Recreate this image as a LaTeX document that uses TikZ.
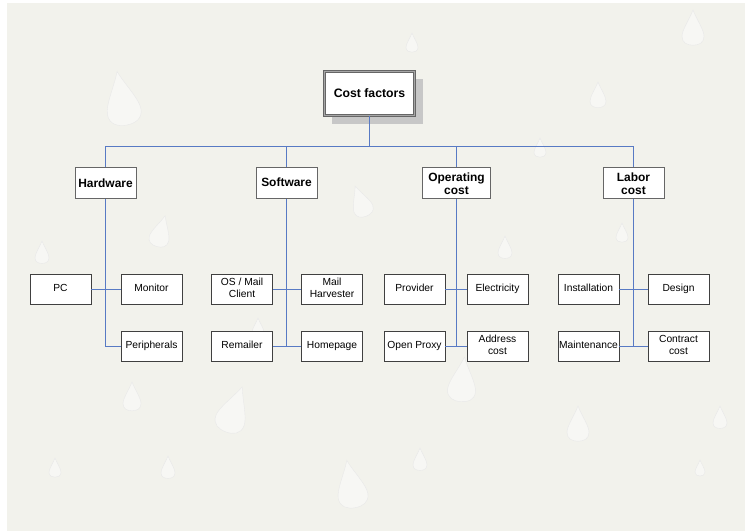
\documentclass[tikz,border=0pt]{standalone}
\usepackage{fontspec}
\setmainfont{Liberation Sans}
\definecolor{linkblue}{RGB}{88,122,196}
\definecolor{bgbeige}{RGB}{242,242,236}
\begin{document}
\begin{tikzpicture}[x=1bp,y=-1bp,
  leaf/.style={draw=black!75,line width=0.8bp,fill=white,minimum width=61bp,minimum height=30bp,inner sep=1bp,align=center,font=\fontsize{10.3}{12}\selectfont,execute at begin node=\strut,execute at end node=\strut},
  cat/.style={draw=black!60,line width=1bp,fill=white,minimum width=61bp,minimum height=31bp,inner sep=1bp,align=center,font=\fontsize{12}{13.5}\selectfont\bfseries},
  root/.style={draw=black!60,double=black!35,double distance=0.8bp,line width=0.7bp,fill=white,minimum width=90bp,minimum height=44bp,font=\fontsize{12.3}{14}\selectfont\bfseries},
  link/.style={draw=linkblue,line width=1bp},
  drop/.pic={\path[fill=white,fill opacity=0.45,draw=black!9,line width=0.4bp]
    (0,-1) .. controls (0.15,-0.6) and (0.5,-0.1) .. (0.5,0.2)
    .. controls (0.5,0.5) and (0.25,0.6) .. (0,0.6)
    .. controls (-0.25,0.6) and (-0.5,0.5) .. (-0.5,0.2)
    .. controls (-0.5,-0.1) and (-0.15,-0.6) .. (0,-1) -- cycle;}]
\useasboundingbox (0,0) rectangle (745,531);
\fill[white] (0,0) rectangle (745,531);
\fill[bgbeige] (7,3) rectangle (745,531);
% background droplets
\foreach \px/\py/\s/\r in {123/105/34/10,42/255/14/0,160/235/20/-15,232/415/30/-20,132/400/18/0,352/490/30/10,462/385/28/-5,420/462/14/0,578/428/22/0,598/98/16/0,693/32/22/0,622/235/12/0,505/250/14/0,362/205/20/20,412/45/12/0,258/330/12/0,700/470/10/0,168/470/14/0,55/470/12/0,540/150/12/0,720/420/14/0}
  \pic[scale=\s,rotate=\r] at (\px,\py) {drop};
% shadow of root
\fill[black!22] (332,79) rectangle (423,124);
\node[root] (cf) at (369.5,93.5) {Cost factors};
\coordinate (bus) at (0,146.5);
% categories
\node[cat] (hw) at (105.5,183.5) {\raisebox{-4bp}{Hardware}};
\node[cat] (sw) at (286.5,183.5) {\raisebox{3bp}{Software}};
\node[cat,minimum width=68bp] (oc) at (456.5,183.5) {Operating\\cost};
\node[cat] (lc) at (633.5,183.5) {Labor\\cost};
% leaves
\node[leaf] (pc) at (60.5,289.5) {PC};
\node[leaf] (mon) at (151.5,289.5) {Monitor};
\node[leaf] (per) at (151.5,346.5) {Peripherals};
\node[leaf] (osm) at (242,289.5) {OS / Mail\\Client};
\node[leaf] (mh) at (332,289.5) {Mail\\Harvester};
\node[leaf] (rem) at (242,346.5) {Remailer};
\node[leaf] (hp) at (332,346.5) {Homepage};
\node[leaf] (prov) at (414.5,289.5) {Provider};
\node[leaf] (elec) at (497.5,289.5) {Electricity};
\node[leaf] (op) at (414.5,346.5) {Open Proxy};
\node[leaf] (ac) at (497.5,346.5) {Address\\cost};
\node[leaf] (inst) at (588.5,289.5) {Installation};
\node[leaf] (des) at (678.5,289.5) {Design};
\node[leaf] (mnt) at (588.5,346.5) {Maintenance};
\node[leaf] (cc) at (678.5,346.5) {Contract\\cost};
% connectors
\draw[link] (cf.south) -- (cf.south |- bus);
\draw[link] (hw.north) -- (hw.north |- bus) -- (lc.north |- bus) -- (lc.north);
\draw[link] (sw.north) -- (sw.north |- bus);
\draw[link] (oc.north) -- (oc.north |- bus);
\draw[link] (hw.south) |- (per.west);
\draw[link] (pc) -- (mon);
\draw[link] (sw.south) -- (sw.south |- rem.east);
\draw[link] (osm) -- (mh);
\draw[link] (rem) -- (hp);
\draw[link] (oc.south) -- (oc.south |- op.east);
\draw[link] (prov) -- (elec);
\draw[link] (op) -- (ac);
\draw[link] (lc.south) -- (lc.south |- mnt.east);
\draw[link] (inst) -- (des);
\draw[link] (mnt) -- (cc);
\end{tikzpicture}
\end{document}
